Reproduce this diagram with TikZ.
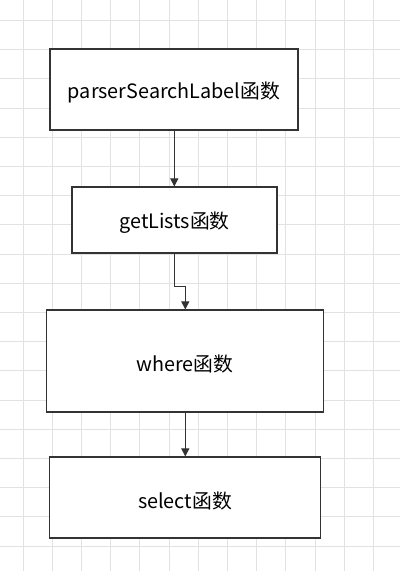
\documentclass[tikz,border=0pt]{standalone}
\usepackage{fontspec}
\setmainfont{Noto Sans CJK SC}
\usetikzlibrary{arrows.meta}
\definecolor{gridc}{HTML}{E2E2E2}
\definecolor{linec}{HTML}{333333}
\newcommand{\lowtxt}[1]{\raisebox{-3pt}[\height][\depth]{#1}}
\tikzset{
  box/.style={draw=linec, line width=1.1pt, fill=white, inner sep=0pt, font=\fontsize{19.8}{22}\selectfont, text=black},
  conn/.style={draw=linec, line width=1pt, -{Triangle[width=8pt,length=8pt]}}
}
\begin{document}
\begin{tikzpicture}[x=1pt,y=-1pt]
\fill[white] (0,0) rectangle (400,571);
\useasboundingbox (0,0) rectangle (400,571);
\foreach \i in {0,...,13} {\draw[gridc, line width=1pt] ({23+29.2*\i},0) -- ({23+29.2*\i},571);}
\foreach \j in {0,...,19} {\draw[gridc, line width=1pt] (0,{20.5+29.2*\j}) -- (400,{20.5+29.2*\j});}
\node[box, minimum width=248pt, minimum height=81pt] (n1) at (174,89.5) {\lowtxt{parserSearchLabel函数}};
\node[box, minimum width=205pt, minimum height=66pt] (n2) at (174.5,220) {\lowtxt{getLists函数}};
\node[box, minimum width=277pt, minimum height=102pt] (n3) at (185,361) {\lowtxt{where函数}};
\node[box, minimum width=271pt, minimum height=81pt] (n4) at (185,497.5) {\lowtxt{select函数}};
\draw[conn] (174.3,0 |- n1.south) -- (174.3,0 |- n2.north);
\draw[conn] (174.3,0 |- n2.south) -- (174.3,286) -- (185.3,286) -- (185.3,0 |- n3.north);
\draw[conn] (185.3,0 |- n3.south) -- (185.3,0 |- n4.north);
\end{tikzpicture}
\end{document}
